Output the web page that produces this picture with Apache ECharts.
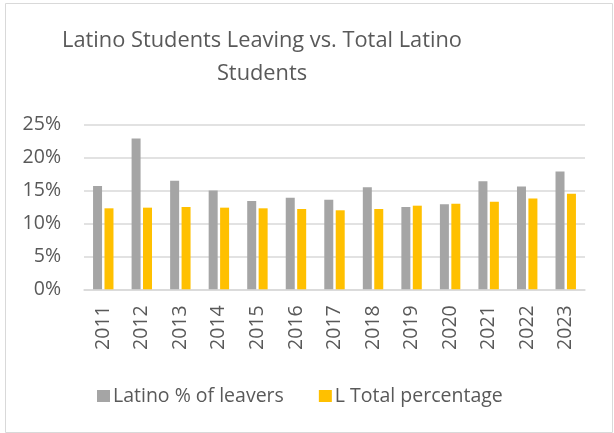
<!DOCTYPE html>
<html>
<head>
<meta charset="utf-8">
<script src="https://cdn.jsdelivr.net/npm/echarts@6/dist/echarts.min.js"></script>
<style>
html,body{margin:0;padding:0;background:#fff;}
#chart{width:614px;height:433px;}
</style>
</head>
<body>
<div id="chart"></div>
<script>
const years = ['2011','2012','2013','2014','2015','2016','2017','2018','2019','2020','2021','2022','2023'];
const latinoLeavers = [15.7, 22.9, 16.5, 15.0, 13.4, 13.9, 13.6, 15.5, 12.5, 12.9, 16.4, 15.6, 17.9];
const latinoTotal = [12.3, 12.4, 12.5, 12.4, 12.3, 12.2, 12.0, 12.2, 12.7, 13.0, 13.3, 13.8, 14.5];
const seriesNames = ['Latino % of leavers', 'L Total percentage'];
const titleText = 'Latino Students Leaving vs. Total Latino\nStudents';

const font = 'Open Sans';
const chart = echarts.init(document.getElementById('chart'));
chart.setOption({
  animation: false,
  graphic: [{
    type: 'rect', left: 3, top: 1,
    shape: { width: 607, height: 429 },
    style: { fill: 'none', stroke: '#d9d9d9', lineWidth: 1 },
    silent: true
  }],
  title: {
    text: titleText,
    left: 257,
    textAlign: 'center',
    top: 19,
    textStyle: { fontFamily: font, fontSize: 21.8, fontWeight: 'normal', color: '#595959', lineHeight: 33 }
  },
  legend: {
    left: 92, top: 381,
    itemWidth: 13, itemHeight: 12, itemGap: 35,
    icon: 'rect',
    textStyle: { fontFamily: font, fontSize: 19.5, color: '#595959', padding: [0,0,0,-2] },
    data: seriesNames
  },
  grid: { left: 84, right: 29, top: 124.7, bottom: 143.7 },
  xAxis: {
    type: 'category', data: years,
    axisLine: { lineStyle: { color: '#d9d9d9', width: 1.5 } },
    axisTick: { show: false },
    axisLabel: { rotate: 90, margin: 16, fontFamily: font, fontSize: 19.5, color: '#595959' }
  },
  yAxis: {
    type: 'value', min: 0, max: 25, interval: 5,
    axisLine: { show: false }, axisTick: { show: false },
    splitLine: { lineStyle: { color: '#d9d9d9', width: 1.5 } },
    axisLabel: { margin: 23, fontFamily: font, fontSize: 19.5, color: '#595959', formatter: '{value}%' }
  },
  series: [
    { name: seriesNames[0], type: 'bar', data: latinoLeavers, barWidth: 9, barGap: '27%',
      itemStyle: { color: '#a5a5a5' } },
    { name: seriesNames[1], type: 'bar', data: latinoTotal, barWidth: 9,
      itemStyle: { color: '#ffc000' } }
  ]
});
</script>
</body>
</html>
